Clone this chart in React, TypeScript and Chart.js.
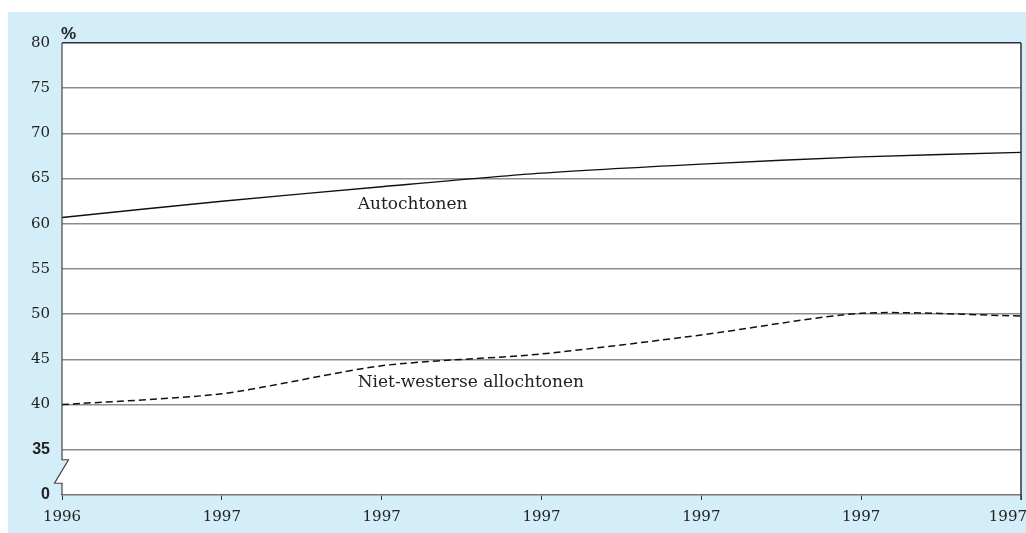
import React, { useEffect, useRef } from 'react';
import { Chart, registerables } from 'chart.js';

Chart.register(...registerables);

const categories = ['1996', '1997', '1997', '1997', '1997', '1997', '1997'];
const autochtonen = [60.7, 62.5, 64.1, 65.6, 66.6, 67.4, 67.9];
const nietWesterse = [40.0, 41.2, 44.3, 45.6, 47.7, 50.1, 49.8];
const seriesNames = ['Autochtonen', 'Niet-westerse allochtonen'];
const yTickValues = [30, 35, 40, 45, 50, 55, 60, 65, 70, 75, 80];
const yTickLabels = ['0', '35', '40', '45', '50', '55', '60', '65', '70', '75', '80'];
const unitLabel = '%';

const SERIF = 'DejaVu Serif';
const SANS = 'Liberation Sans';

const decorPlugin = {
  id: 'decor',
  beforeDraw(chart: any) {
    const { ctx, chartArea } = chart;
    const { left: L, right: R, top: T, bottom: B } = chartArea;
    const y = chart.scales.y;
    const x = chart.scales.x;
    // right-align the last x label against the canvas edge
    const items = x.getLabelItems(chartArea);
    if (items && items.length) {
      const last = items[items.length - 1];
      last.options.textAlign = 'right';
      last.options.translation = [chart.width + 1, last.options.translation[1]];
    }
    const yBreakTop = y.getPixelForValue(33.9);
    const yBreakBot = y.getPixelForValue(31.3);
    ctx.save();
    ctx.fillStyle = '#ffffff';
    ctx.beginPath();
    ctx.moveTo(L, T);
    ctx.lineTo(R, T);
    ctx.lineTo(R, B);
    ctx.lineTo(L, B);
    ctx.lineTo(L, yBreakBot);
    ctx.lineTo(L - 7.5, yBreakBot);
    ctx.lineTo(L + 6.5, yBreakTop);
    ctx.lineTo(L, yBreakTop);
    ctx.closePath();
    ctx.fill();
    ctx.restore();
  },
  afterDraw(chart: any) {
    const { ctx, chartArea } = chart;
    const { left: L, right: R, top: T, bottom: B } = chartArea;
    const x = chart.scales.x;
    const y = chart.scales.y;
    const yBreakTop = y.getPixelForValue(33.9);
    const yBreakBot = y.getPixelForValue(31.3);
    ctx.save();
    // left axis with break
    ctx.strokeStyle = '#444';
    ctx.lineWidth = 1.2;
    ctx.beginPath();
    ctx.moveTo(L, T);
    ctx.lineTo(L, yBreakTop);
    ctx.lineTo(L + 6.5, yBreakTop);
    ctx.lineTo(L - 7.5, yBreakBot);
    ctx.lineTo(L, yBreakBot);
    ctx.lineTo(L, B);
    ctx.stroke();
    // right border
    ctx.strokeStyle = '#333';
    ctx.lineWidth = 1.5;
    ctx.beginPath();
    ctx.moveTo(R, T);
    ctx.lineTo(R, B + 5);
    ctx.stroke();
    // unit label
    ctx.fillStyle = '#222';
    ctx.font = `bold 17px "${SANS}"`;
    ctx.textAlign = 'center';
    ctx.textBaseline = 'middle';
    ctx.fillText(unitLabel, L + 6.5, T - 8.5);
    // series labels
    ctx.font = `17px "${SERIF}"`;
    ctx.textAlign = 'left';
    ctx.fillText(seriesNames[0], x.getPixelForValue(1.85), y.getPixelForValue(62.1));
    ctx.fillText(seriesNames[1], x.getPixelForValue(1.85), y.getPixelForValue(42.4));
    ctx.restore();
  },
};

export default function App() {
  const canvasRef = useRef<HTMLCanvasElement | null>(null);

  useEffect(() => {
    if (!canvasRef.current) return;
    const chart = new Chart(canvasRef.current, {
      type: 'line',
      data: {
        labels: categories,
        datasets: [
          {
            label: seriesNames[0],
            data: autochtonen,
            borderColor: '#111',
            borderWidth: 1.4,
            pointRadius: 0,
            tension: 0.25,
            fill: false,
          },
          {
            label: seriesNames[1],
            data: nietWesterse,
            borderColor: '#111',
            borderWidth: 1.5,
            borderDash: [7, 4],
            pointRadius: 0,
            tension: 0.25,
            fill: false,
          },
        ],
      },
      options: {
        animation: false,
        responsive: true,
        maintainAspectRatio: false,
        layout: { padding: { left: 0, right: 5, top: 31, bottom: 0 } },
        plugins: {
          legend: { display: false },
          tooltip: { enabled: false },
        },
        scales: {
          x: {
            type: 'category',
            offset: false,
            afterFit(scale: any) {
              scale.height = 38;
              scale.paddingLeft = 0;
              scale.paddingRight = 0;
            },
            grid: {
              drawOnChartArea: false,
              drawTicks: true,
              tickLength: 5,
              color: '#333',
              lineWidth: 1,
            },
            border: { display: true, color: '#777', width: 1.5 },
            ticks: {
              color: '#222',
              font: { family: SERIF, size: 15 },
              padding: 8,
              maxRotation: 0,
              autoSkip: false,
            },
          },
          y: {
            type: 'linear',
            min: 30,
            max: 80,
            afterFit(scale: any) {
              scale.width = 54;
            },
            afterBuildTicks(scale: any) {
              scale.ticks = yTickValues.map((v) => ({ value: v }));
            },
            grid: {
              drawTicks: false,
              color: (c: any) =>
                c.tick && c.tick.value === 80
                  ? '#333'
                  : c.tick && c.tick.value === 30
                  ? 'rgba(0,0,0,0)'
                  : '#8c8c8c',
              lineWidth: 1.5,
            },
            border: { display: false },
            ticks: {
              padding: 12,
              color: '#222',
              font: (c: any) =>
                c.tick && c.tick.value <= 35
                  ? { family: SANS, size: 16, weight: 'bold' }
                  : { family: SERIF, size: 15 },
              callback: (v: any) => {
                const i = yTickValues.indexOf(Number(v));
                return i >= 0 ? yTickLabels[i] : '';
              },
            },
          },
        },
      },
      plugins: [decorPlugin],
    });
    return () => chart.destroy();
  }, []);

  return (
    <div
      style={{
        position: 'absolute',
        left: 8,
        top: 12,
        width: 1018,
        height: 521,
        background: '#d4eef9',
      }}
    >
      <canvas ref={canvasRef} />
    </div>
  );
}
